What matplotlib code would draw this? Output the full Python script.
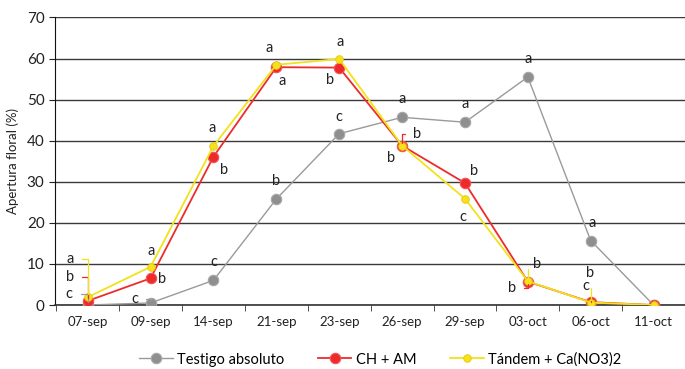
import matplotlib.pyplot as plt

plt.rcParams['font.family'] = ['Lato', 'DejaVu Sans']

# data
fechas = ['07-sep', '09-sep', '14-sep', '21-sep', '23-sep', '26-sep', '29-sep', '03-oct', '06-oct', '11-oct']
testigo = [0.0, 0.5, 6.0, 25.8, 41.7, 45.7, 44.5, 55.5, 15.7, 0.0]
ch_am = [1.0, 6.5, 36.1, 57.9, 57.8, 38.8, 29.7, 5.7, 0.7, 0.0]
tandem = [1.9, 9.3, 38.7, 58.5, 59.9, 38.8, 25.9, 5.8, 0.6, 0.0]

# significance letters
letras_testigo = ['c', 'c', 'c', 'b', 'c', 'a', 'a', 'a', 'a', '']
letras_ch = ['b', 'b', 'b', 'a', 'b', 'b', 'b', 'b', 'c', '']
letras_tandem = ['a', 'a', 'a', 'a', 'a', 'b', 'c', 'b', 'b', '']

# label offsets (pixels) and whether a leader line is drawn
off_testigo = [(-19, 11), (-16, 4), (0, 18), (0, 18), (0, 17), (0, 18), (0, 18), (0, 18), (1, 18), (0, 0)]
lead_testigo = [True, True, False, False, False, False, False, False, False, False]
off_ch = [(-18, 24), (11, -1), (11, -13), (6, -14), (-9, -12), (15, 12), (9, 12), (-16, -6), (-5, 16), (0, 0)]
lead_ch = [True, False, False, False, False, True, False, True, True, False]
off_tandem = [(-18, 38), (1, 16), (-1, 18), (-7, 17), (1, 17), (-11, -12), (-2, -18), (9, 17), (-1, 30), (0, 0)]
lead_tandem = [True, False, False, False, False, False, False, True, True, False]

fig = plt.figure(figsize=(6.85, 3.69), dpi=100)
ax = fig.add_axes([0.0803, 0.1734, 0.9197, 0.7792])

x = list(range(len(fechas)))
ax.plot(x, testigo, color='#9a9a9a', lw=1.0, marker='o', ms=7.5,
        mfc='#8f8f8f', mec='#a8a8a8', mew=0.8, label='Testigo absoluto', zorder=3)
ax.plot(x, ch_am, color='#ee2b2b', lw=1.3, marker='o', ms=7.5,
        mfc='#ee2b2b', mec='#f25555', mew=0.8, label='CH + AM', zorder=4)
ax.plot(x, tandem, color='#f2e21a', lw=1.3, marker='o', ms=5.5,
        mfc='#f5e11c', mec='#e8c810', mew=0.6, label='Tándem + Ca(NO3)2', zorder=5)

series = [
    (testigo, letras_testigo, off_testigo, lead_testigo, '#9a9a9a'),
    (ch_am, letras_ch, off_ch, lead_ch, '#ee2b2b'),
    (tandem, letras_tandem, off_tandem, lead_tandem, '#f2e21a'),
]
for vals, letras, offs, leads, col in series:
    for i, (v, l, o, ld) in enumerate(zip(vals, letras, offs, leads)):
        if not l:
            continue
        props = None
        if ld:
            props = dict(arrowstyle='-', color=col, lw=0.9, shrinkA=4, shrinkB=2,
                         connectionstyle='angle,angleA=0,angleB=90,rad=0')
        ax.annotate(l, (i, v), xytext=o, textcoords='offset pixels',
                    ha='center', va='center', fontsize=10.5, color='#222222',
                    arrowprops=props, zorder=6)

ax.set_xlim(-0.52, 9.33)
ax.set_ylim(0, 70)
ax.set_yticks(range(0, 71, 10))
ax.set_xticks(x)
ax.set_xticklabels(fechas)
ax.set_xticks([i + 0.5 for i in range(-1, len(fechas))], minor=True)
ax.tick_params(axis='x', which='major', length=0, pad=8, labelsize=9.5, colors='#222222')
ax.tick_params(axis='x', which='minor', length=4, direction='out', color='#333333')
ax.tick_params(axis='y', length=4, labelsize=11, colors='#222222')
ax.yaxis.grid(True, color='#3a3a3a', lw=1.0)
ax.set_axisbelow(True)
for s in ['top', 'right']:
    ax.spines[s].set_visible(False)
ax.spines['left'].set_color('#111111')
ax.spines['bottom'].set_color('#333333')
ax.spines['bottom'].set_linewidth(1.2)
ax.set_ylabel('Apertura floral (%)', fontsize=9.5, labelpad=6, color='#222222')

fig.legend(loc='center', bbox_to_anchor=(0.555, 0.026), ncol=3, frameon=False,
           fontsize=10.5, handlelength=2.3, columnspacing=2.3, handletextpad=0.3)

fig.savefig('out.png', dpi=100)
